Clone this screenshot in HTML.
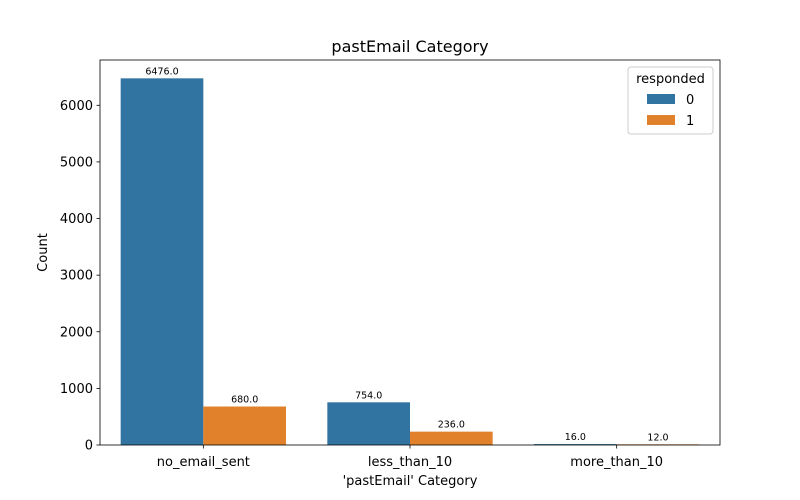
<!DOCTYPE html>
<html><head><meta charset="utf-8">
<style>
body{margin:0;background:#fff;}
svg{font-family:"DejaVu Sans","Liberation Sans",sans-serif;display:block;}
</style></head>
<body>
<svg id="chart" width="800" height="500" viewBox="0 0 800 500">
<rect width="800" height="500" fill="#fff"/>
<g id="bars"></g>
<g id="axes"></g>
</svg>
<script>
const categories = ["no_email_sent","less_than_10","more_than_10"];
const hue0 = [6476, 754, 16];
const hue1 = [680, 236, 12];
const yTicks = [0,1000,2000,3000,4000,5000,6000];
const hueLabels = ["0","1"];
const colors = ["#3274a1","#e1812c"];

const L=100,R=720,T=60,B=445;
const maxV=Math.max(...hue0,...hue1)*1.05;
const y=v=>B-(v/maxV)*(B-T);
const xs=i=>L+(i+0.5)*(R-L)/categories.length;
const unit=(R-L)/categories.length;
const NS="http://www.w3.org/2000/svg";
function mk(tag,attrs,parent,text){const e=document.createElementNS(NS,tag);for(const k in attrs)e.setAttribute(k,attrs[k]);if(text!==undefined)e.textContent=text;parent.appendChild(e);return e;}
const bars=document.getElementById('bars'), axes=document.getElementById('axes');
const series=[hue0,hue1];
series.forEach((s,h)=>{
  s.forEach((v,i)=>{
    const x0=xs(i)+(h===0?-0.4:0)*unit;
    const r=mk('rect',{x:x0,y:y(v),width:0.4*unit,height:B-y(v),fill:colors[h]},bars);
    
    
    const t=mk('text',{x:x0+0.2*unit,y:y(v)-4,'text-anchor':'middle','font-size':'9.5'},bars,v.toFixed(1));
    
    
  });
});
const fr=mk('rect',{x:L,y:T,width:R-L,height:B-T,fill:'none',stroke:'#000','stroke-width':0.8},axes);


yTicks.forEach(v=>{
  mk('line',{x1:L-3.5,x2:L,y1:y(v),y2:y(v),stroke:'#000','stroke-width':0.8},axes);
  const t=mk('text',{x:L-7,y:y(v)+4.5,'text-anchor':'end','font-size':'13'},axes,String(v));
  
  
});
categories.forEach((c,i)=>{
  mk('line',{x1:xs(i),x2:xs(i),y1:B,y2:B+3.5,stroke:'#000','stroke-width':0.8},axes);
  const t=mk('text',{x:xs(i),y:B+21,'text-anchor':'middle','font-size':'13'},axes,c);
  
  
});
let t=mk('text',{x:(L+R)/2,y:485,'text-anchor':'middle','font-size':'13'},axes,"'pastEmail' Category");


t=mk('text',{x:47,y:(T+B)/2,'text-anchor':'middle','font-size':'13',transform:`rotate(-90 47 ${(T+B)/2})`},axes,"Count");


t=mk('text',{x:(L+R)/2,y:52,'text-anchor':'middle','font-size':'16'},axes,"pastEmail Category");


const lg=mk('g',{},axes);


mk('rect',{x:628,y:67,width:85,height:67,rx:3,fill:'#fff',stroke:'#ccc','stroke-width':1},lg);
mk('text',{x:670.5,y:83,'text-anchor':'middle','font-size':'13'},lg,'responded');
hueLabels.forEach((h,i)=>{
  const e=mk('g',{},lg);
  
  
  mk('rect',{x:647,y:94+i*21,width:28,height:10,fill:colors[i]},e);
  mk('text',{x:686,y:104+i*21,'font-size':'13'},e,h);
});
</script>
</body></html>
